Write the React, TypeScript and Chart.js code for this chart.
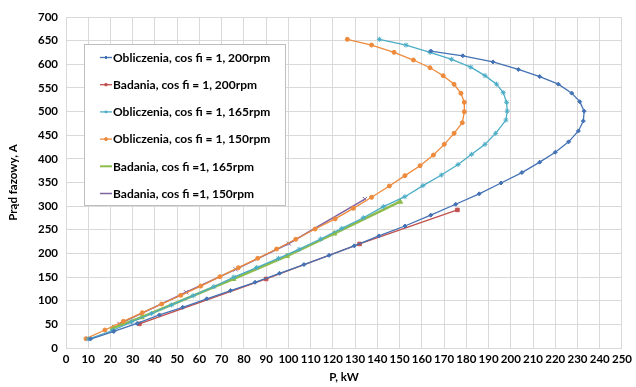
import React, { useEffect, useRef } from "react";
import { Chart, registerables } from "chart.js";
import { drawPoint } from "chart.js/helpers";

Chart.register(...registerables);

// Obliczenia, cos fi = 1, 200rpm
const calc200P = [11, 21.5, 32, 42, 52.5, 63.3, 74, 85, 96, 107, 118.3, 129.6, 140.7, 152.4, 164, 175.2, 185.8, 195.6, 205, 213, 220, 226, 230.4, 232.6, 233, 231, 227.4, 221.4, 213, 203.4, 192, 178.4, 164];
const calc200I = [19, 35, 52, 70, 86, 104, 121.5, 139, 158, 176.5, 196, 216, 237, 258, 281, 304, 326, 349, 371, 393, 414, 436, 459, 480, 501, 521, 539, 558, 574, 589, 605, 618, 628];

// Badania, cos fi = 1, 200rpm
const test200P = [33, 90, 132, 176];
const test200I = [51, 146, 220, 292];

// Obliczenia, cos fi = 1, 165rpm
const calc165P = [10, 21, 29.5, 38.5, 47.5, 57.2, 66.5, 75.5, 85.7, 95.5, 104.8, 114.5, 124, 133.7, 142.7, 152.4, 160.5, 168.8, 176.3, 182.4, 188.4, 193.2, 197.8, 198.4, 198.1, 196.6, 193.6, 188.4, 182, 173.4, 163.7, 152.9, 140.9];
const calc165I = [19, 37, 55, 73, 91, 110.6, 129.6, 150, 170, 189.6, 208.7, 230.5, 253, 275.5, 299, 320, 343.5, 365.8, 388, 409.6, 430.7, 454, 482, 501, 519.6, 540, 558, 576, 594, 610.5, 625, 640.7, 652.8];

// Obliczenia, cos fi = 1, 150rpm
const calc150P = [9, 17.5, 25.8, 34.3, 43, 51.6, 60.6, 69.2, 77.5, 86.2, 94.7, 103.3, 112, 121, 129.2, 137.4, 145.4, 152.4, 159.2, 165.2, 170.1, 174.5, 178.2, 179.1, 179.1, 177.6, 174.5, 169.6, 163.7, 156.2, 147.5, 137.4, 126.5];
const calc150I = [19.7, 38, 56.4, 74.7, 93, 111.4, 131, 150.8, 169.8, 189.7, 209.3, 229.9, 251.6, 273, 295.4, 318.7, 342.6, 364.5, 385.5, 408, 430.7, 454, 476.4, 499.7, 519.6, 538.6, 557.6, 575.8, 592.7, 609, 625.3, 640.7, 652.8];

// Badania, cos fi =1, 165rpm
const test165P = [21, 34, 75.2, 99.3, 120.6, 150.2];
const test165I = [42, 65, 146, 194.5, 242, 309.4];

// Badania, cos fi =1, 150rpm
const test150P = [24, 54, 76.3, 100.2, 134.4];
const test150I = [51, 117.8, 166.4, 221, 315];

const xTicksMin = 0, xTicksMax = 250, xStep = 10;
const yTicksMin = 0, yTicksMax = 700, yStep = 50;

const labels = [
  "Obliczenia, cos fi = 1, 200rpm",
  "Badania, cos fi = 1, 200rpm",
  "Obliczenia, cos fi = 1, 165rpm",
  "Obliczenia, cos fi = 1, 150rpm",
  "Badania, cos fi =1, 165rpm",
  "Badania, cos fi =1, 150rpm",
];

const pts = (xs: number[], ys: number[]) => xs.map((x, i) => ({ x, y: ys[i] }));

const FONT = "Lato, 'Liberation Sans', sans-serif";

const boxLegend = {
  id: "boxLegend",
  afterDraw(chart: any) {
    const ctx = chart.ctx as CanvasRenderingContext2D;
    const x0 = 84, y0 = 44, w = 201, h = 161;
    ctx.save();
    ctx.fillStyle = "#ffffff";
    ctx.fillRect(x0, y0, w, h);
    ctx.strokeStyle = "#bfbfbf";
    ctx.lineWidth = 1;
    ctx.strokeRect(x0 + 0.5, y0 + 0.5, w, h);
    chart.data.datasets.forEach((ds: any, i: number) => {
      const cy = 57.5 + i * 27.2;
      ctx.strokeStyle = ds.borderColor;
      ctx.lineWidth = Math.min(ds.borderWidth, 2);
      ctx.beginPath();
      ctx.moveTo(100, cy);
      ctx.lineTo(112, cy);
      ctx.stroke();
      if (ds.pointRadius > 0 && i < 4) {
        ctx.fillStyle = ds.pointBackgroundColor;
        ctx.strokeStyle = ds.pointBorderColor;
        ctx.lineWidth = 1;
        drawPoint(ctx, { pointStyle: ds.pointStyle, radius: 1.5, borderWidth: 1, rotation: 0 }, 106, cy);
      }
      ctx.fillStyle = "#000000";
      ctx.font = `bold 12px ${FONT}`;
      ctx.textBaseline = "middle";
      ctx.textAlign = "left";
      ctx.fillText(ds.label, 113, cy + 0.5);
    });
    ctx.restore();
  },
};

export default function App() {
  const ref = useRef<HTMLCanvasElement | null>(null);
  useEffect(() => {
    document.body.style.margin = "0";
    const canvas = ref.current!;
    const mk = (i: number, xs: number[], ys: number[], color: string, style: string, radius: number, width: number) => ({
      label: labels[i],
      data: pts(xs, ys),
      showLine: true,
      borderColor: color,
      backgroundColor: color,
      borderWidth: width,
      pointStyle: style,
      pointRadius: radius,
      pointBackgroundColor: color,
      pointBorderColor: color,
      pointBorderWidth: 1,
      tension: 0,
    });
    const chart = new Chart(canvas, {
      type: "scatter",
      data: {
        datasets: [
          mk(0, calc200P, calc200I, "#4472B4", "rectRot", 2, 1.3),
          mk(1, test200P, test200I, "#C0504D", "rect", 2.5, 1.3),
          mk(2, calc165P, calc165I, "#4BACC6", "star", 2.5, 1.3),
          mk(3, calc150P, calc150I, "#EE8A3C", "circle", 2, 1.3),
          mk(4, test165P, test165I, "#8DBB4C", "triangle", 3, 2.6),
          mk(5, test150P, test150I, "#8064A2", "crossRot", 3, 1.5),
        ] as any,
      },
      options: {
        responsive: false,
        animation: false,
        layout: { padding: { top: 17, right: 14, left: 0, bottom: 0 } },
        plugins: { legend: { display: false }, tooltip: { enabled: false } },
        scales: {
          x: {
            type: "linear",
            min: xTicksMin,
            max: xTicksMax,
            afterFit: (s: any) => { s.height = 39; },
            ticks: {
              stepSize: xStep,
              autoSkip: false,
              maxRotation: 0,
              padding: 4,
              color: "#000",
              font: { family: FONT, size: 11.5, weight: "bold" },
            },
            grid: { color: "#d9d9d9", drawTicks: false },
            border: { color: "#d9d9d9" },
            title: {
              display: true,
              text: "P, kW",
              color: "#000",
              padding: { top: 2, bottom: 3 },
              font: { family: FONT, size: 11.5, weight: "bold" },
            },
          },
          y: {
            type: "linear",
            min: yTicksMin,
            max: yTicksMax,
            afterFit: (s: any) => { s.width = 66; },
            ticks: {
              stepSize: yStep,
              padding: 8,
              color: "#000",
              font: { family: FONT, size: 11.5, weight: "bold" },
            },
            grid: { color: "#d9d9d9", drawTicks: false },
            border: { color: "#d9d9d9" },
            title: {
              display: true,
              text: "Prąd fazowy, A",
              color: "#000",
              padding: { top: 6, bottom: 0 },
              font: { family: FONT, size: 11.5, weight: "bold" },
            },
          },
        },
      },
      plugins: [boxLegend],
    } as any);
    return () => chart.destroy();
  }, []);
  return <canvas ref={ref} width={636} height={387} style={{ display: "block" }} />;
}
